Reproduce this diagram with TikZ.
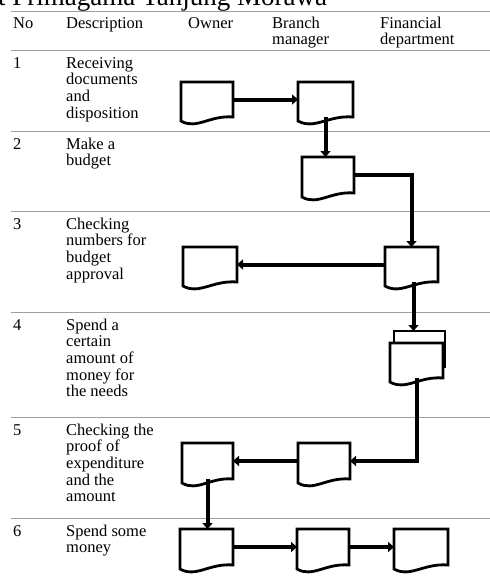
\documentclass[tikz,border=0pt]{standalone}
\usepackage{fontspec}
\setmainfont{Liberation Serif}
\usetikzlibrary{arrows.meta,calc}

\tikzset{
  txt/.style={anchor=base west,inner sep=0pt,align=left,font=\fontsize{16.5}{16.7}\selectfont},
  rowline/.style={draw=gray!75,line width=1pt},
  docnode/.style={anchor=north west,inner sep=0pt,outer sep=0pt},
  docline/.style={line width=2.8pt,fill=white},
  flow/.style={line width=4pt,-{Triangle[length=6pt,width=10pt]}}
}

% document symbol: name, top left corner, width, height
\newcommand{\docbox}[4]{%
  \node[docnode,minimum width=#3,minimum height=#4] (#1) at (#2) {};
  \draw[docline] (#1.north west) -- (#1.north east) -- (#1.south east)
    .. controls ($(#1.south west)!0.55!(#1.south east)+(0pt,2pt)$)
    and ($(#1.south west)!0.3!(#1.south east)+(0pt,-13pt)$)
    .. ($(#1.south west)+(0pt,-4pt)$) -- cycle;}

\begin{document}
\begin{tikzpicture}[x=1pt,y=-1pt]
\useasboundingbox (0,0) rectangle (490,584);
\clip (0,0) rectangle (490,584);

% title, cut at the top
\node[anchor=base west,inner sep=0pt,font=\fontsize{27}{30}\selectfont] (title) at (-2,5) {t Primagama Tanjung Morawa};

% table rules
\foreach \y in {11,50,131,211,312,417,518}
  \draw[rowline] (11,\y) -- (490,\y);

% header (multi-line nodes sit on their last line)
\node[txt] (hno) at (13,28) {No};
\node[txt] (hdesc) at (66,28) {Description};
\node[txt] (howner) at (188,28) {Owner};
\node[txt] (hbranch) at (272,44.7) {Branch\\manager};
\node[txt] (hfin) at (380,44.7) {Financial\\department};

% rows
\node[txt] (n1) at (13,68) {1};
\node[txt] (d1) at (66,118.1) {Receiving\\documents\\and\\disposition};
\node[txt] (n2) at (13,149) {2};
\node[txt] (d2) at (66,165.7) {Make a\\budget};
\node[txt] (n3) at (13,229) {3};
\node[txt] (d3) at (66,279.1) {Checking\\numbers for\\budget\\approval};
\node[txt] (n4) at (13,330) {4};
\node[txt] (d4) at (66,396.8) {Spend a\\certain\\amount of\\money for\\the needs};
\node[txt] (n5) at (13,435) {5};
\node[txt] (d5) at (66,501.8) {Checking the\\proof of\\expenditure\\and the\\amount};
\node[txt] (n6) at (13,536) {6};
\node[txt] (d6) at (66,552.7) {Spend some\\money};

% documents
\docbox{o1}{181,82}{52pt}{35pt}
\docbox{b1}{298,82}{55pt}{35pt}
\docbox{b2}{302,157}{52pt}{36pt}
\docbox{f3}{385,247}{53pt}{35pt}
\docbox{o3}{183,247}{54pt}{35pt}
\node[docnode,minimum width=51pt,minimum height=36pt] (f4b) at (394,331) {};
\draw[docline] (f4b.north west) rectangle (f4b.south east);
\docbox{f4}{390,343}{53pt}{35pt}
\docbox{b5}{298,443}{52pt}{36pt}
\docbox{o5}{182,443}{51pt}{36pt}
\docbox{o6}{180,529}{53pt}{36pt}
\docbox{b6}{297,529}{52pt}{36pt}
\docbox{f6}{394,529}{54pt}{36pt}

% flow
\draw[flow] (o1.east) -- (b1.west);
\draw[flow] (b1.south) -- (b1.south |- b2.north);
\draw[flow] (b2.east) -| (f3.north);
\draw[flow] (f3.west) -- (o3.east);
\draw[flow] ([xshift=2pt]f3.south) -- ([xshift=2pt]f3.south |- f4b.north);
\draw[flow] (f4.south) |- (b5.east);
\draw[flow] (b5.west) -- (o5.east);
\draw[flow] (o5.south) -- (o5.south |- o6.north);
\draw[flow] (o6.east) -- (b6.west);
\draw[flow] (b6.east) -- (f6.west);
\end{tikzpicture}
\end{document}
